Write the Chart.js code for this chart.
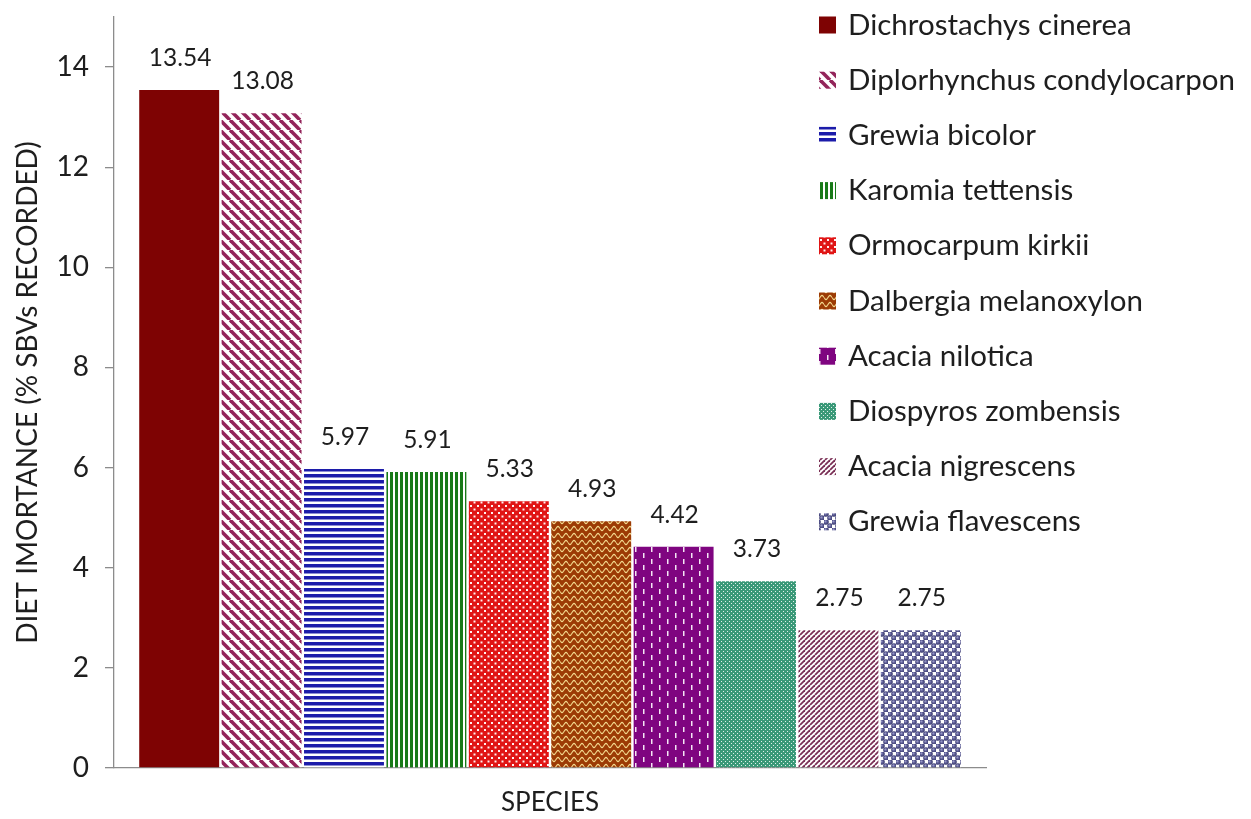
<!DOCTYPE html>
<html>
<head>
<meta charset="utf-8">
<script src="https://cdn.jsdelivr.net/npm/chart.js@4.4.1/dist/chart.umd.min.js"></script>
<style>
  html, body { margin: 0; padding: 0; background: #ffffff; }
  #wrap { width: 1251px; height: 819px; }
</style>
</head>
<body>
<div id="wrap"><canvas id="chart" width="1251" height="819"></canvas></div>
<script>
// Browse species recorded in the diet, share of SBVs
const categories = ['SPECIES'];
const species = [
  'Dichrostachys cinerea',
  'Diplorhynchus condylocarpon',
  'Grewia bicolor',
  'Karomia tettensis',
  'Ormocarpum kirkii',
  'Dalbergia melanoxylon',
  'Acacia nilotica',
  'Diospyros zombensis',
  'Acacia nigrescens',
  'Grewia flavescens'
];
const values = [13.54, 13.08, 5.97, 5.91, 5.33, 4.93, 4.42, 3.73, 2.75, 2.75];
const yTicks = [0, 2, 4, 6, 8, 10, 12, 14];

const FONT = 'Lato, "Open Sans", sans-serif';
const TEXT = '#1e1e1e';
const AXIS = '#8c8c8c';

// ---- fill patterns -------------------------------------------------------
function tile(w, h, paint) {
  const c = document.createElement('canvas');
  c.width = w; c.height = h;
  const g = c.getContext('2d');
  paint(g, w, h);
  return g.createPattern(c, 'repeat');
}

function diagonal(p, color, lw, down) {
  return tile(p, p, (g) => {
    g.fillStyle = '#ffffff'; g.fillRect(0, 0, p, p);
    g.strokeStyle = color; g.lineWidth = lw;
    for (const o of [-p, 0, p]) {
      g.beginPath();
      if (down) { g.moveTo(o, 0); g.lineTo(o + p, p); }
      else { g.moveTo(o, p); g.lineTo(o + p, 0); }
      g.stroke();
    }
  });
}

const fills = [
  // solid
  '#7e0303',
  // wide downward diagonal
  diagonal(10, '#93245a', 3.6, true),
  // horizontal lines
  tile(1, 6, (g) => { g.fillStyle = '#ffffff'; g.fillRect(0, 0, 1, 6); g.fillStyle = '#1c1caa'; g.fillRect(0, 0, 1, 3.5); }),
  // vertical lines
  tile(5, 1, (g) => { g.fillStyle = '#ffffff'; g.fillRect(0, 0, 5, 1); g.fillStyle = '#187a18'; g.fillRect(0, 0, 3, 1); }),
  // confetti dots on red
  tile(7, 7, (g) => {
    g.fillStyle = '#e01515'; g.fillRect(0, 0, 7, 7);
    g.fillStyle = '#fff2f2';
    g.fillRect(1, 1, 2, 2); g.fillRect(4.5, 4.5, 2, 2);
  }),
  // wave on brown
  tile(8, 7, (g) => {
    g.fillStyle = '#9c3b05'; g.fillRect(0, 0, 8, 7);
    g.strokeStyle = '#f2d88e'; g.lineWidth = 1.2;
    g.beginPath();
    for (let x = 0; x <= 8; x += 0.5) {
      const y = 3.5 + 2 * Math.sin((x / 8) * Math.PI * 2);
      if (x === 0) g.moveTo(x, y); else g.lineTo(x, y);
    }
    g.stroke();
  }),
  // dashed vertical on purple
  tile(16, 12, (g) => {
    g.fillStyle = '#7f0580'; g.fillRect(0, 0, 16, 12);
    g.fillStyle = '#f4e6f4';
    g.fillRect(3, 1, 1.5, 5); g.fillRect(11, 7, 1.5, 5);
  }),
  // small grid on teal
  tile(4, 4, (g) => {
    g.fillStyle = '#3a9978'; g.fillRect(0, 0, 4, 4);
    g.fillStyle = 'rgba(255,255,255,0.85)';
    g.fillRect(1, 1, 1, 1); g.fillRect(3, 3, 1, 1);
  }),
  // narrow upward diagonal
  diagonal(5, '#7a2f55', 1.8, false),
  // spheres
  tile(8, 8, (g) => {
    g.fillStyle = '#ffffff'; g.fillRect(0, 0, 8, 8);
    const dot = (cx, cy) => {
      const gr = g.createRadialGradient(cx - 0.8, cy - 0.8, 0.3, cx, cy, 2.9);
      gr.addColorStop(0, '#9a9ac8'); gr.addColorStop(0.5, '#55558e'); gr.addColorStop(1, '#3e3e70');
      g.fillStyle = gr; g.beginPath(); g.arc(cx, cy, 2.8, 0, Math.PI * 2); g.fill();
    };
    dot(2, 2); dot(6, 6);
  })
];

// ---- value labels above each bar -----------------------------------------
const valueLabels = {
  id: 'valueLabels',
  afterDatasetsDraw(chart) {
    const ctx = chart.ctx;
    ctx.save();
    ctx.font = '24.5px ' + FONT;
    ctx.fillStyle = TEXT;
    ctx.textAlign = 'center';
    ctx.textBaseline = 'middle';
    chart.data.datasets.forEach((ds, i) => {
      chart.getDatasetMeta(i).data.forEach((bar, j) => {
        ctx.fillText(ds.data[j].toFixed(2), bar.x + 1, bar.y - 32);
      });
    });
    ctx.restore();
  }
};

// ---- legend column on the right ------------------------------------------
const sideLegend = {
  id: 'sideLegend',
  afterDraw(chart) {
    const ctx = chart.ctx;
    const x0 = 819, box = 17, textX = 848, top = 25, step = 55.2;
    ctx.save();
    ctx.font = '29.5px ' + FONT;
    ctx.textBaseline = 'middle';
    chart.data.datasets.forEach((ds, i) => {
      const cy = top + i * step;
      ctx.fillStyle = ds.backgroundColor;
      ctx.fillRect(x0, cy - box / 2, box, box);
      ctx.fillStyle = TEXT;
      ctx.fillText(ds.label, textX, cy);
    });
    ctx.restore();
  }
};

new Chart(document.getElementById('chart'), {
  type: 'bar',
  data: {
    labels: categories,
    datasets: species.map((name, i) => ({
      label: name,
      data: [values[i]],
      backgroundColor: fills[i],
      borderWidth: 0
    }))
  },
  options: {
    responsive: false,
    animation: false,
    devicePixelRatio: 1,
    categoryPercentage: 0.945,
    barPercentage: 0.97,
    layout: { padding: { top: 17, right: 265, left: 0, bottom: 0 } },
    plugins: {
      legend: { display: false },
      tooltip: { enabled: false }
    },
    scales: {
      x: {
        grid: { display: false, drawTicks: false },
        border: { display: true, color: AXIS, width: 1.3 },
        ticks: { color: TEXT, font: { family: FONT, size: 26 }, padding: 19 },
        afterFit(scale) { scale.height = 51; scale.paddingLeft = 0; scale.paddingRight = 0; }
      },
      y: {
        min: 0,
        max: 15,
        afterBuildTicks(scale) { scale.ticks = yTicks.map(v => ({ value: v })); },
        grid: { display: true, drawOnChartArea: false, drawTicks: true, tickLength: 9, color: AXIS, lineWidth: 1.3 },
        border: { display: true, color: AXIS, width: 1.3 },
        ticks: { color: TEXT, font: { family: FONT, size: 28 }, padding: 16 },
        title: {
          display: true,
          text: 'DIET IMORTANCE (% SBVs RECORDED)',
          color: TEXT,
          font: { family: FONT, size: 28 },
          padding: { top: 11, bottom: 0 }
        },
        afterFit(scale) { scale.width = 114; scale.paddingTop = 0; scale.paddingBottom = 0; }
      }
    }
  },
  plugins: [valueLabels, sideLegend]
});
</script>
</body>
</html>
